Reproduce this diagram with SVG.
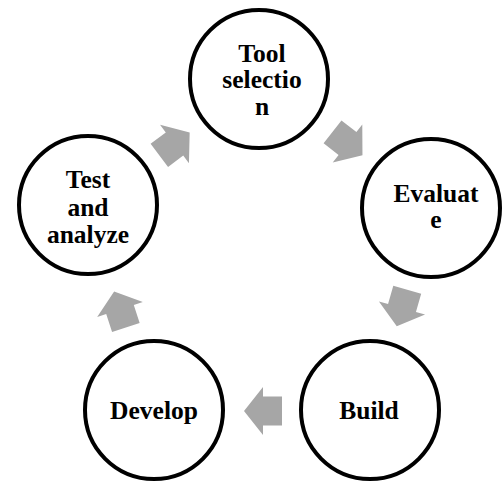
<svg xmlns="http://www.w3.org/2000/svg" width="503" height="485" viewBox="0 0 503 485">
  <style>
    .node circle { fill: #ffffff; stroke: #000000; stroke-width: 4; }
    .node text { font-weight: bold; font-size: 25.5px; fill: #000000; text-anchor: middle; }
    .arrow { fill: #a6a6a6; }
  </style>
  <defs>
    <path id="blockArrow" d="M-19,-14.5 H0 V-24 L19,0 L0,24 V14.5 H-19 Z"/>
  </defs>
  <rect x="0" y="0" width="503" height="485" fill="#ffffff"/>
  <g id="connectors">
    <use href="#blockArrow" class="arrow" transform="translate(174.5,144) rotate(-37)"/>
    <use href="#blockArrow" class="arrow" transform="translate(347.5,143.5) rotate(38)"/>
    <use href="#blockArrow" class="arrow" transform="translate(402,308) rotate(106)"/>
    <use href="#blockArrow" class="arrow" transform="translate(263,411) rotate(180)"/>
    <use href="#blockArrow" class="arrow" transform="translate(120,309.5) rotate(-108)"/>
  </g>
  <g id="node-tool-selection" class="node" font-family="Liberation Serif, serif">
    <circle cx="259" cy="79" r="69"/>
    <text x="262" y="62">Tool</text>
    <text x="262" y="88">selectio</text>
    <text x="262" y="115">n</text>
  </g>
  <g id="node-evaluate" class="node" font-family="Liberation Serif, serif">
    <circle cx="431" cy="208" r="69"/>
    <text x="436" y="202">Evaluat</text>
    <text x="436" y="228">e</text>
  </g>
  <g id="node-build" class="node" font-family="Liberation Serif, serif">
    <circle cx="370" cy="410" r="69"/>
    <text x="369" y="419">Build</text>
  </g>
  <g id="node-develop" class="node" font-family="Liberation Serif, serif">
    <circle cx="154" cy="410" r="69"/>
    <text x="154" y="419">Develop</text>
  </g>
  <g id="node-test-and-analyze" class="node" font-family="Liberation Serif, serif">
    <circle cx="88" cy="205" r="69"/>
    <text x="88" y="188">Test</text>
    <text x="88" y="216">and</text>
    <text x="88" y="243">analyze</text>
  </g>
</svg>
